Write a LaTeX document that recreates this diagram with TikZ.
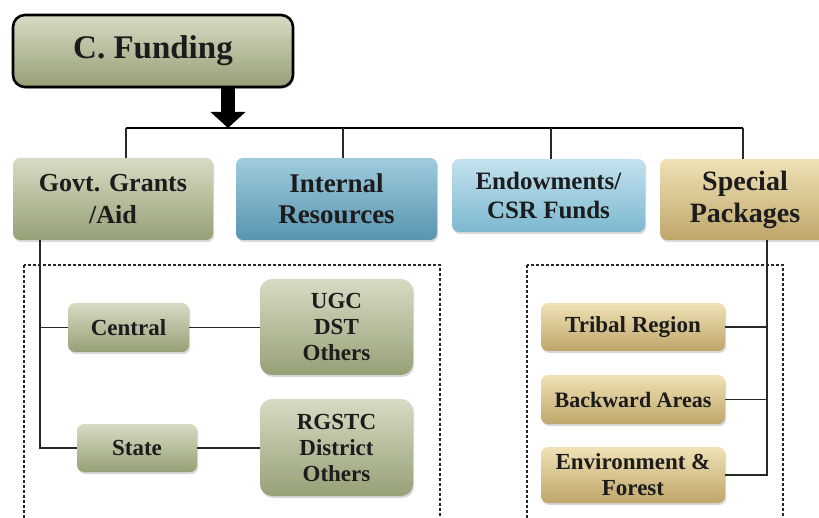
\documentclass[tikz,border=0pt]{standalone}
\usepackage{fontspec}
\setmainfont{Liberation Serif}
\usetikzlibrary{shadows,arrows.meta}
\definecolor{gL}{RGB}{214,220,196}
\definecolor{gD}{RGB}{150,160,118}
\definecolor{bL}{RGB}{160,204,222}
\definecolor{bD}{RGB}{88,148,176}
\definecolor{eL}{RGB}{196,226,238}
\definecolor{eD}{RGB}{124,184,208}
\definecolor{tL}{RGB}{240,226,182}
\definecolor{tD}{RGB}{190,166,106}
\definecolor{textc}{RGB}{28,28,28}
\definecolor{linec}{RGB}{40,40,40}
\begin{document}
\begin{tikzpicture}[x=1pt,y=-1pt,
  box/.style={rounded corners=7pt, align=center, inner sep=0pt, text=textc,
    drop shadow={shadow xshift=1.2pt,shadow yshift=-2pt,opacity=0.3}},
  lvone/.style={box, font=\fontsize{26}{32}\selectfont\bfseries},
  lvtwo/.style={box, font=\fontsize{23}{26}\selectfont\bfseries},
  greenbox/.style={top color=gL, bottom color=gD},
  bluebox/.style={top color=bL, bottom color=bD},
  lightbluebox/.style={top color=eL, bottom color=eD},
  tanbox/.style={top color=tL, bottom color=tD},
  conn/.style={draw=linec, line width=1.8pt},
  busline/.style={draw=black, line width=2.5pt},
  dashbox/.style={draw=black!85, line width=1.1pt, dash pattern=on 3pt off 2pt}
]
\useasboundingbox (0,0) rectangle (819,518);
\clip (0,0) rectangle (819,518);
\fill[white] (0,0) rectangle (819,518);

% dashed frames
\draw[dashbox] (24,265) rectangle (440,540);
\draw[dashbox] (527,265) rectangle (783,540);

% title
\node[box, greenbox, draw=black, line width=2.6pt, rounded corners=12pt,
  minimum width=280pt, minimum height=72pt,
  font=\fontsize{33}{38}\selectfont\bfseries] (title) at (153,51) {C. Funding};

% level one
\node[lvone, greenbox, minimum width=200pt, minimum height=82pt] (govt) at (113,199) {Govt. Grants\\/Aid};
\node[lvone, bluebox, minimum width=201pt, minimum height=82pt, font=\fontsize{27}{31}\selectfont\bfseries] (internal) at (336.5,199) {Internal\\Resources};
\node[lvone, lightbluebox, minimum width=193pt, minimum height=73pt, font=\fontsize{25}{29}\selectfont\bfseries] (endow) at (548.5,195.5) {Endowments/\\CSR Funds};
\node[lvone, tanbox, minimum width=170pt, minimum height=81pt, font=\fontsize{28}{32}\selectfont\bfseries] (special) at (745,199.5) {Special\\Packages};

% level two, left
\node[lvtwo, greenbox, minimum width=121pt, minimum height=49pt] (central) at (128.5,327.5) {Central};
\node[lvtwo, greenbox, minimum width=120pt, minimum height=48pt] (state) at (137,448) {State};
\node[lvtwo, greenbox, minimum width=153pt, minimum height=96pt, rounded corners=12pt] (ugc) at (336.5,327) {UGC\\DST\\Others};
\node[lvtwo, greenbox, minimum width=153pt, minimum height=97pt, rounded corners=12pt] (rgstc) at (336.5,447.5) {RGSTC\\District\\Others};

% level two, right
\node[lvtwo, tanbox, minimum width=184pt, minimum height=48pt] (tribal) at (633,327) {Tribal Region};
\node[lvtwo, tanbox, minimum width=184pt, minimum height=49pt, font=\fontsize{22}{26}\selectfont\bfseries] (backward) at (633,399.5) {Backward Areas};
\node[lvtwo, tanbox, minimum width=184pt, minimum height=56pt] (env) at (633,475) {Environment \&\\Forest};

% bus and arrow
\coordinate (bA) at (126,128);
\coordinate (bB) at (343,128);
\coordinate (bC) at (551,128);
\coordinate (bD) at (743,128);
\coordinate (aTop) at (228,88);
\draw[busline] (bA) -- (bD);
\draw[line width=14pt, -{Triangle[width=34pt,length=16pt]}] (title.south -| aTop) -- (aTop |- bA);
\draw[conn] (bA) -- (bA |- govt.north);
\draw[conn] (bB) -- (bB |- internal.north);
\draw[conn] (bC) -- (bC |- endow.north);
\draw[conn] (bD) -- (bD |- special.north);

% left tree
\coordinate (lv) at (40,240);
\draw[conn] (govt.south -| lv) -- (lv |- state.west) -- (state.west);
\draw[conn] (lv |- central.west) -- (central.west);
\draw[conn] (central.east) -- (central.east -| ugc.west);
\draw[conn] (state.east) -- (state.east -| rgstc.west);

% right tree
\coordinate (rv) at (767,240);
\draw[conn] (special.south -| rv) -- (rv |- env.east) -- (env.east);
\draw[conn] (tribal.east) -- (tribal.east -| rv);
\draw[conn] (backward.east) -- (backward.east -| rv);
\end{tikzpicture}
\end{document}
